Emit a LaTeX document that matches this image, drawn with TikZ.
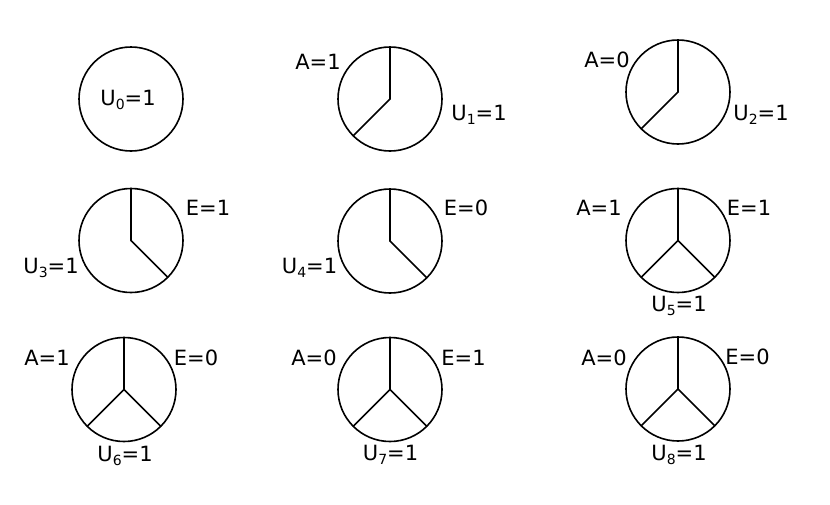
\documentclass[tikz,border=0pt]{standalone}
\usepackage{fontspec}
\setmainfont{DejaVu Sans}
\newcommand\subs[1]{\raisebox{-4pt}{\fontsize{14}{14}\selectfont #1}}
\begin{document}
\begin{tikzpicture}[x=1pt,y=-1pt,
  pie/.style={draw, circle, minimum size=104pt, inner sep=0pt, outer sep=0pt, line width=1.6pt},
  spoke/.style={line width=1.6pt, line cap=round},
  lab/.style={inner sep=0pt, font=\fontsize{21}{25}\selectfont},
  ulab/.style={lab, anchor=base}]
\fill[white] (0,0) rectangle (830,504);
\useasboundingbox (0,0) rectangle (830,504);
% row 1
\node[pie] (c0) at (131,99) {};
\node[ulab] (u0) at (128,105) {U\subs{0}=1};
\node[pie] (c1) at (390,99) {};
\draw[spoke] (c1.center) -- (c1.90);
\draw[spoke] (c1.center) -- (c1.225);
\node[lab] (a1) at (318,62) {A=1};
\node[ulab] (u1) at (479,120) {U\subs{1}=1};
\node[pie] (c2) at (678,92) {};
\draw[spoke] (c2.center) -- (c2.90);
\draw[spoke] (c2.center) -- (c2.225);
\node[lab] (a2) at (607,60) {A=0};
\node[ulab] (u2) at (761,120) {U\subs{2}=1};
% row 2
\node[pie] (c3) at (131,240.5) {};
\draw[spoke] (c3.center) -- (c3.90);
\draw[spoke] (c3.center) -- (c3.-45);
\node[lab] (e3) at (208,208) {E=1};
\node[ulab] (u3) at (51,273.5) {U\subs{3}=1};
\node[pie] (c4) at (390,241) {};
\draw[spoke] (c4.center) -- (c4.90);
\draw[spoke] (c4.center) -- (c4.-45);
\node[lab] (e4) at (466,208) {E=0};
\node[ulab] (u4) at (309.5,273.5) {U\subs{4}=1};
\node[pie] (c5) at (678,240.5) {};
\draw[spoke] (c5.center) -- (c5.90);
\draw[spoke] (c5.center) -- (c5.225);
\draw[spoke] (c5.center) -- (c5.-45);
\node[lab] (a5) at (599,208) {A=1};
\node[lab] (e5) at (749,208) {E=1};
\node[ulab] (u5) at (679,311.5) {U\subs{5}=1};
% row 3
\node[pie] (c6) at (124,389.5) {};
\draw[spoke] (c6.center) -- (c6.90);
\draw[spoke] (c6.center) -- (c6.225);
\draw[spoke] (c6.center) -- (c6.-45);
\node[lab] (a6) at (47,358) {A=1};
\node[lab] (e6) at (196,358) {E=0};
\node[ulab] (u6) at (125,461) {U\subs{6}=1};
\node[pie] (c7) at (390,389.5) {};
\draw[spoke] (c7.center) -- (c7.90);
\draw[spoke] (c7.center) -- (c7.225);
\draw[spoke] (c7.center) -- (c7.-45);
\node[lab] (a7) at (314,358) {A=0};
\node[lab] (e7) at (463.5,358) {E=1};
\node[ulab] (u7) at (390.5,460) {U\subs{7}=1};
\node[pie] (c8) at (678,389) {};
\draw[spoke] (c8.center) -- (c8.90);
\draw[spoke] (c8.center) -- (c8.225);
\draw[spoke] (c8.center) -- (c8.-45);
\node[lab] (a8) at (604,358) {A=0};
\node[lab] (e8) at (747.5,357) {E=0};
\node[ulab] (u8) at (679,460) {U\subs{8}=1};
\end{tikzpicture}
\end{document}
